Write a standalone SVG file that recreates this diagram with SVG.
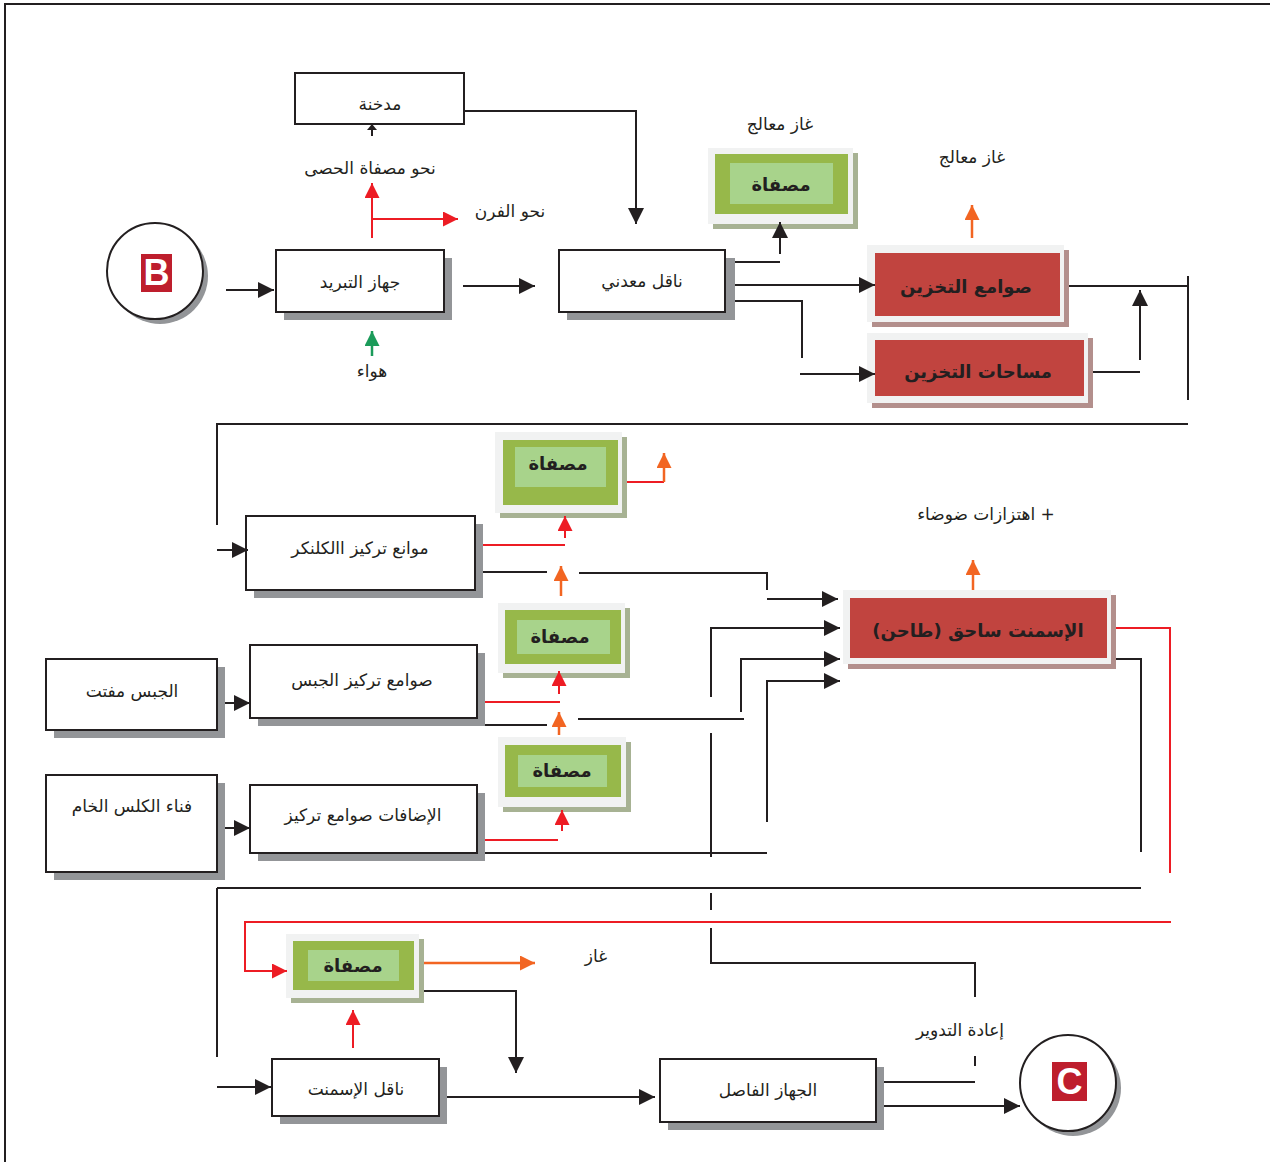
<svg xmlns="http://www.w3.org/2000/svg" width="1270" height="1162" viewBox="0 0 1270 1162">
<style>
.box{fill:#fff;stroke:#231f20;stroke-width:2}
.sh{fill:#939598}
.t{font-family:"DejaVu Sans",sans-serif;font-size:17px;fill:#231f20;text-anchor:middle;direction:rtl}
.tb{font-family:"DejaVu Sans",sans-serif;font-size:18px;font-weight:bold;fill:#231f20;text-anchor:middle;direction:rtl}
.fr{fill:#f1f2f2}
.gsh{fill:#a7b293}
.g1{fill:#97b84a}
.g2{fill:#a8d38b}
.rsh{fill:#b38f8c}
.r1{fill:#c1443f}
.k{fill:none;stroke:#231f20;stroke-width:2}
.rd{fill:none;stroke:#ed1c24;stroke-width:2}
.or{fill:none;stroke:#f26522;stroke-width:2.5}
.gr{fill:none;stroke:#1b9b5a;stroke-width:2.5}
</style>
<defs>
<marker id="ak" markerUnits="userSpaceOnUse" markerWidth="18" markerHeight="18" refX="16" refY="8" orient="auto"><path d="M0,0 L16,8 L0,16 z" fill="#231f20"/></marker>
<marker id="ar" markerUnits="userSpaceOnUse" markerWidth="18" markerHeight="18" refX="15" refY="7.5" orient="auto"><path d="M0,0 L15,7.5 L0,15 z" fill="#ed1c24"/></marker>
<marker id="ao" markerUnits="userSpaceOnUse" markerWidth="18" markerHeight="18" refX="15" refY="7.5" orient="auto"><path d="M0,0 L15,7.5 L0,15 z" fill="#f26522"/></marker>
<marker id="ag" markerUnits="userSpaceOnUse" markerWidth="18" markerHeight="18" refX="15" refY="7.5" orient="auto"><path d="M0,0 L15,7.5 L0,15 z" fill="#1b9b5a"/></marker>
<marker id="aks" markerUnits="userSpaceOnUse" markerWidth="12" markerHeight="12" refX="6" refY="5" orient="auto"><path d="M0,0 L6,5 L0,10 z" fill="#231f20"/></marker>
</defs>
<rect width="1270" height="1162" fill="#fff"/>
<path d="M5,1162 V4 H1270" fill="none" stroke="#231f20" stroke-width="2"/>

<g id="chimney"><rect class="box" x="295" y="73" width="169" height="51"/><text class="t" x="380" y="110">مدخنة</text></g>
<g id="label-gravel"><text class="t" x="370" y="174">نحو مصفاة الحصى</text></g>
<g id="label-kiln"><text class="t" x="510" y="217">نحو الفرن</text></g>
<g id="label-air"><text class="t" x="372" y="377">هواء</text></g>

<g id="node-B">
<circle cx="160" cy="276" r="48" fill="#939598"/>
<circle cx="155" cy="271" r="48" fill="#fff" stroke="#231f20" stroke-width="2"/>
<rect x="141" y="254" width="31" height="38" fill="#be1e2d"/>
<text x="156.5" y="285" font-family="Liberation Sans,Arial,sans-serif" font-weight="bold" font-size="36" fill="#fff" text-anchor="middle">B</text>
</g>

<g id="cooler"><rect class="sh" x="284" y="258" width="168" height="62"/><rect class="box" x="276" y="250" width="168" height="62"/><text class="t" x="360" y="288">جهاز التبريد</text></g>
<g id="metal-conveyor"><rect class="sh" x="567" y="258" width="168" height="62"/><rect class="box" x="559" y="250" width="166" height="62"/><text class="t" x="642" y="287">ناقل معدني</text></g>

<g id="label-gas1"><text class="t" x="780" y="130">غاز معالج</text></g>
<g id="filter-top"><rect class="gsh" x="713" y="153" width="145" height="76"/><rect class="fr" x="708" y="148" width="145" height="76"/><rect class="g1" x="715" y="154" width="133" height="60"/><rect class="g2" x="730" y="163" width="103" height="41"/><text class="tb" x="781" y="191">مصفاة</text></g>

<g id="label-gas2"><text class="t" x="972" y="163">غاز معالج</text></g>
<g id="storage-silos"><rect class="rsh" x="872" y="250" width="197" height="77"/><rect class="fr" x="867" y="245" width="197" height="77"/><rect class="r1" x="875" y="253" width="185" height="63"/><text class="tb" x="966" y="293">صوامع التخزين</text></g>
<g id="storage-areas"><rect class="rsh" x="872" y="338" width="221" height="70"/><rect class="fr" x="867" y="333" width="221" height="70"/><rect class="r1" x="875" y="340" width="209" height="56"/><text class="tb" x="978" y="378">مساحات التخزين</text></g>

<g id="clinker"><rect class="sh" x="254" y="524" width="229" height="74"/><rect class="box" x="246" y="516" width="229" height="74"/><text class="t" x="360" y="554">موانع تركيز االكلنكر</text></g>
<g id="filter-1"><rect class="gsh" x="500" y="437" width="127" height="81"/><rect class="fr" x="495" y="432" width="127" height="81"/><rect class="g1" x="503" y="440" width="115" height="65"/><rect class="g2" x="515" y="447" width="91" height="40"/><text class="tb" x="558" y="470">مصفاة</text></g>

<g id="label-noise"><text class="t" x="986" y="520">+ اهتزازات ضوضاء</text></g>
<g id="cement-mill"><rect class="rsh" x="848" y="595" width="268" height="74"/><rect class="fr" x="843" y="590" width="268" height="74"/><rect class="r1" x="850" y="598" width="257" height="60"/><text class="tb" x="978" y="637">الإسمنت ساحق (طاحن)</text></g>

<g id="filter-2"><rect class="gsh" x="503" y="608" width="127" height="70"/><rect class="fr" x="498" y="603" width="127" height="70"/><rect class="g1" x="505" y="610" width="116" height="54"/><rect class="g2" x="517" y="620" width="93" height="34"/><text class="tb" x="560" y="643">مصفاة</text></g>
<g id="gypsum-silos"><rect class="sh" x="258" y="653" width="227" height="73"/><rect class="box" x="250" y="645" width="227" height="73"/><text class="t" x="362" y="686">صوامع تركيز الجبس</text></g>
<g id="crushed-gypsum"><rect class="sh" x="54" y="667" width="171" height="71"/><rect class="box" x="46" y="659" width="171" height="71"/><text class="t" x="132" y="697">الجبس مفتت</text></g>

<g id="filter-3"><rect class="gsh" x="503" y="742" width="128" height="70"/><rect class="fr" x="498" y="737" width="128" height="70"/><rect class="g1" x="505" y="745" width="116" height="52"/><rect class="g2" x="518" y="755" width="89" height="32"/><text class="tb" x="562" y="777">مصفاة</text></g>
<g id="additives-silos"><rect class="sh" x="258" y="793" width="227" height="68"/><rect class="box" x="250" y="785" width="227" height="68"/><text class="t" x="363" y="821">الإضافات صوامع تركيز</text></g>
<g id="limestone-yard"><rect class="sh" x="54" y="783" width="171" height="97"/><rect class="box" x="46" y="775" width="171" height="97"/><text class="t" x="132" y="812">فناء الكلس الخام</text></g>

<g id="filter-bottom"><rect class="gsh" x="291" y="939" width="133" height="64"/><rect class="fr" x="286" y="934" width="133" height="64"/><rect class="g1" x="293" y="941" width="121" height="49"/><rect class="g2" x="308" y="950" width="91" height="31"/><text class="tb" x="353" y="972">مصفاة</text></g>
<g id="label-gas3"><text class="t" x="596" y="962" font-size="21">غاز</text></g>
<g id="label-recycle"><text class="t" x="960" y="1036">إعادة التدوير</text></g>

<g id="cement-conveyor"><rect class="sh" x="280" y="1067" width="167" height="57"/><rect class="box" x="272" y="1059" width="167" height="57"/><text class="t" x="356" y="1095">ناقل الإسمنت</text></g>
<g id="separator"><rect class="sh" x="668" y="1067" width="216" height="63"/><rect class="box" x="660" y="1059" width="216" height="63"/><text class="t" x="768" y="1096">الجهاز الفاصل</text></g>

<g id="node-C">
<circle cx="1073" cy="1088" r="48" fill="#939598"/>
<circle cx="1068" cy="1083" r="48" fill="#fff" stroke="#231f20" stroke-width="2"/>
<rect x="1052" y="1062" width="35" height="39" fill="#be1e2d"/>
<text x="1069.5" y="1094" font-family="Liberation Sans,Arial,sans-serif" font-weight="bold" font-size="36" fill="#fff" text-anchor="middle">C</text>
</g>

<g id="connectors">
<path class="k" d="M464,111 H636 V224" marker-end="url(#ak)"/>
<path class="k" d="M372,136 V124" marker-end="url(#aks)"/>
<path class="k" d="M226,290 H274" marker-end="url(#ak)"/>
<path class="k" d="M463,286 H535" marker-end="url(#ak)"/>
<path class="k" d="M735,262 H780"/>
<path class="k" d="M780,254 V222" marker-end="url(#ak)"/>
<path class="k" d="M735,285 H875" marker-end="url(#ak)"/>
<path class="k" d="M735,301 H802 V358"/>
<path class="k" d="M800,374 H875" marker-end="url(#ak)"/>
<path class="k" d="M1069,286 H1188"/>
<path class="k" d="M1188,276 V400"/>
<path class="k" d="M1093,372 H1140"/>
<path class="k" d="M1140,360 V290" marker-end="url(#ak)"/>
<path class="k" d="M1188,424 H217 V525"/>
<path class="k" d="M217,550 H248" marker-end="url(#ak)"/>
<path class="k" d="M483,572 H547"/>
<path class="k" d="M579,573 H767 V590"/>
<path class="k" d="M767,599 H838" marker-end="url(#ak)"/>
<path class="k" d="M711,697 V628 H840" marker-end="url(#ak)"/>
<path class="k" d="M741,712 V659 H840" marker-end="url(#ak)"/>
<path class="k" d="M485,725 H547"/>
<path class="k" d="M578,719 H744"/>
<path class="k" d="M767,822 V681 H840" marker-end="url(#ak)"/>
<path class="k" d="M485,853 H767"/>
<path class="k" d="M711,733 V857"/>
<path class="k" d="M1116,659 H1141 V852"/>
<path class="k" d="M225,703 H250" marker-end="url(#ak)"/>
<path class="k" d="M225,828 H250" marker-end="url(#ak)"/>
<path class="k" d="M217,888 H1141"/>
<path class="k" d="M217,888 V1057"/>
<path class="k" d="M711,893 V910"/>
<path class="k" d="M711,928 V963 H975 V997"/>
<path class="k" d="M975,1056 V1066"/>
<path class="k" d="M884,1082 H975"/>
<path class="k" d="M217,1087 H271" marker-end="url(#ak)"/>
<path class="k" d="M424,991 H516 V1073" marker-end="url(#ak)"/>
<path class="k" d="M447,1097 H655" marker-end="url(#ak)"/>
<path class="k" d="M884,1106 H1020" marker-end="url(#ak)"/>

<path class="rd" d="M372,238 V183" marker-end="url(#ar)"/>
<path class="rd" d="M372,219 H458" marker-end="url(#ar)"/>
<path class="rd" d="M483,545 H565"/>
<path class="rd" d="M565,538 V516" marker-end="url(#ar)"/>
<path class="rd" d="M627,482 H664"/>
<path class="rd" d="M485,702 H560"/>
<path class="rd" d="M559,694 V671" marker-end="url(#ar)"/>
<path class="rd" d="M485,840 H558"/>
<path class="rd" d="M562,831 V810" marker-end="url(#ar)"/>
<path class="rd" d="M1116,628 H1170 V873"/>
<path class="rd" d="M1171,922 H245 V971 H287" marker-end="url(#ar)"/>
<path class="rd" d="M353,1048 V1010" marker-end="url(#ar)"/>

<path class="or" d="M972,238 V205" marker-end="url(#ao)"/>
<path class="or" d="M664,482 V453" marker-end="url(#ao)"/>
<path class="or" d="M561,596 V566" marker-end="url(#ao)"/>
<path class="or" d="M559,735 V712" marker-end="url(#ao)"/>
<path class="or" d="M973,590 V560" marker-end="url(#ao)"/>
<path class="or" d="M424,963 H535" marker-end="url(#ao)"/>
<path class="gr" d="M372,356 V331" marker-end="url(#ag)"/>
</g>
</svg>
